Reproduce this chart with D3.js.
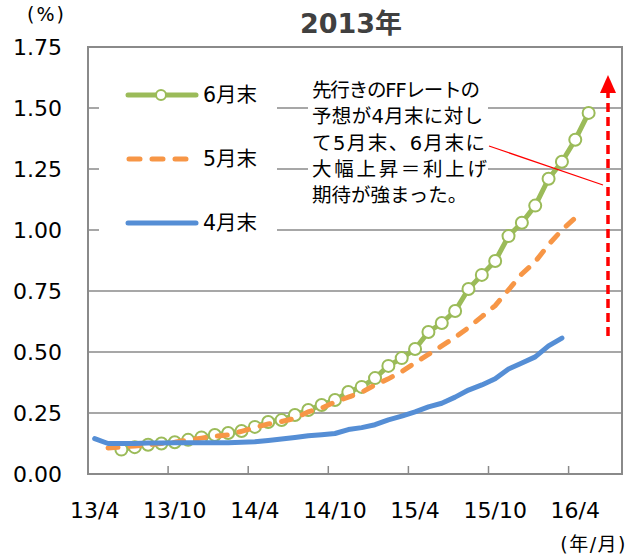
<!DOCTYPE html>
<html>
<head>
<meta charset="utf-8">
<script src="https://cdn.jsdelivr.net/npm/d3@7"></script>
<style>
  html, body { margin: 0; padding: 0; background: #fff; }
  svg { display: block; }
  text { font-family: "DejaVu Sans", "Noto Sans CJK JP", sans-serif; }
</style>
</head>
<body>
<svg id="chart" width="638" height="556"></svg>
<script>
// ---- data ----
const months = ["13/4","13/5","13/6","13/7","13/8","13/9","13/10","13/11","13/12","14/1","14/2","14/3",
  "14/4","14/5","14/6","14/7","14/8","14/9","14/10","14/11","14/12","15/1","15/2","15/3",
  "15/4","15/5","15/6","15/7","15/8","15/9","15/10","15/11","15/12","16/1","16/2","16/3",
  "16/4","16/5","16/6","16/7"];
const xTickLabels = ["13/4","13/10","14/4","14/10","15/4","15/10","16/4"];
const yTicks = [0, 0.25, 0.5, 0.75, 1.0, 1.25, 1.5, 1.75];

// 4月末 : 13/4 .. 16/3
const apr = [0.145,0.125,0.125,0.125,0.127,0.127,0.128,0.128,0.128,0.128,0.128,0.130,
  0.132,0.137,0.143,0.150,0.157,0.161,0.166,0.182,0.190,0.202,0.222,0.237,
  0.255,0.275,0.290,0.315,0.344,0.365,0.390,0.430,0.455,0.480,0.525,0.557];
// 5月末 : 13/5 .. 16/4
const may = [0.107,0.110,0.115,0.120,0.125,0.130,0.140,0.147,0.155,0.160,0.175,
  0.190,0.205,0.215,0.228,0.255,0.270,0.295,0.315,0.335,0.365,0.390,0.420,
  0.455,0.490,0.525,0.560,0.600,0.645,0.690,0.755,0.820,0.870,0.940,1.000,1.050];
// 6月末 : 13/6 .. 16/5
const jun = [0.100,0.110,0.120,0.125,0.130,0.140,0.150,0.160,0.168,0.176,
  0.193,0.213,0.221,0.242,0.262,0.283,0.303,0.336,0.357,0.393,0.443,0.475,
  0.512,0.582,0.619,0.668,0.758,0.816,0.873,0.975,1.030,1.100,1.210,1.280,1.370,1.480];

const seriesNames = ["6月末","5月末","4月末"];
const noteLines = ["先行きのFFレートの","予想が4月末に対し","て5月末、6月末に","大幅上昇＝利上げ","期待が強まった。"];

// ---- chart ----
const svg = d3.select("#chart");
const L = 88, R = 622, T = 47, B = 474;
const x = d3.scaleBand().domain(months).range([L, R]).padding(0);
const y = d3.scaleLinear().domain([0, 1.75]).range([B, T]);
const cx = m => x(m) + x.bandwidth() / 2;

const gridColor = "#8a8a8a";
// gridlines
svg.append("g").selectAll("line").data(yTicks.filter(d => d > 0 && d < 1.75)).join("line")
  .attr("x1", L).attr("x2", R).attr("y1", d => y(d)).attr("y2", d => y(d))
  .attr("stroke", gridColor).attr("stroke-width", 1.5);

// plot border
svg.append("rect").attr("x", L).attr("y", T).attr("width", R - L).attr("height", B - T)
  .attr("fill", "none").attr("stroke", gridColor).attr("stroke-width", 2);

// x tick marks (between categories, every 6)
const tickIdx = d3.range(6, months.length, 6);
svg.append("g").selectAll("line").data(tickIdx).join("line")
  .attr("x1", i => x(months[i])).attr("x2", i => x(months[i]))
  .attr("y1", B).attr("y2", B - 8)
  .attr("stroke", gridColor).attr("stroke-width", 1.5);

// y axis labels
const yAxis = d3.axisLeft(y).tickValues(yTicks).tickFormat(d3.format(".2f")).tickSize(0).tickPadding(26);
const gy = svg.append("g").attr("transform", `translate(${L},0)`).call(yAxis);
gy.select(".domain").remove();
gy.selectAll("text").attr("font-size", 22).attr("fill", "#000")
  .style("font-family", '"DejaVu Sans", sans-serif');

// x axis labels
const xAxis = d3.axisBottom(x).tickValues(xTickLabels).tickSize(0).tickPadding(28);
const gx = svg.append("g").attr("transform", `translate(0,${B})`).call(xAxis);
gx.select(".domain").remove();
gx.selectAll("text").attr("font-size", 22).attr("fill", "#000")
  .style("font-family", '"DejaVu Sans", sans-serif');

// lines
const line = d3.line().x(d => cx(d.m)).y(d => y(d.v));
const aprD = apr.map((v, i) => ({ m: months[i], v }));
const mayD = may.map((v, i) => ({ m: months[i + 1], v }));
const junD = jun.map((v, i) => ({ m: months[i + 2], v }));

const green = "#9BBB59", orange = "#F79646", blue = "#558ED5";

svg.append("path").datum(junD).attr("d", line).attr("fill", "none")
  .attr("stroke", green).attr("stroke-width", 5).attr("stroke-linejoin", "round");
svg.append("g").selectAll("circle").data(junD).join("circle")
  .attr("cx", d => cx(d.m)).attr("cy", d => y(d.v)).attr("r", 6)
  .attr("fill", "#fff").attr("stroke", green).attr("stroke-width", 2);

svg.append("path").datum(mayD).attr("d", line).attr("fill", "none")
  .attr("stroke", orange).attr("stroke-width", 5).attr("stroke-linecap", "round")
  .attr("stroke-dasharray", "10,12");

svg.append("path").datum(aprD).attr("d", line).attr("fill", "none")
  .attr("stroke", blue).attr("stroke-width", 5).attr("stroke-linejoin", "round").attr("stroke-linecap", "round");

// red arrow
const arrowX = 608;
svg.append("line").attr("x1", arrowX).attr("x2", arrowX).attr("y1", 336).attr("y2", 92)
  .attr("stroke", "#FF0000").attr("stroke-width", 3.5).attr("stroke-dasharray", "9,5");
svg.append("path").attr("d", `M${arrowX - 8},93 L${arrowX + 8},93 L${arrowX},75 Z`).attr("fill", "#FF0000");

// annotation pointer line
svg.append("line").attr("x1", 489).attr("y1", 146).attr("x2", 603).attr("y2", 185)
  .attr("stroke", "#FF0000").attr("stroke-width", 1.2);

// legend
svg.append("rect").attr("x", 99).attr("y", 65).attr("width", 178).attr("height", 177).attr("fill", "#fff");
const legY = [95, 159, 223];
const lg = svg.append("g");
lg.append("line").attr("x1", 128).attr("x2", 196).attr("y1", legY[0]).attr("y2", legY[0])
  .attr("stroke", green).attr("stroke-width", 5).attr("stroke-linecap", "round");
lg.append("circle").attr("cx", 161).attr("cy", legY[0]).attr("r", 5)
  .attr("fill", "#fff").attr("stroke", green).attr("stroke-width", 2);
lg.append("line").attr("x1", 129).attr("x2", 190).attr("y1", legY[1]).attr("y2", legY[1])
  .attr("stroke", orange).attr("stroke-width", 5).attr("stroke-linecap", "round").attr("stroke-dasharray", "11,12");
lg.append("line").attr("x1", 128).attr("x2", 196).attr("y1", legY[2]).attr("y2", legY[2])
  .attr("stroke", blue).attr("stroke-width", 5).attr("stroke-linecap", "round");
lg.selectAll("text").data(seriesNames).join("text")
  .attr("x", 203).attr("y", (d, i) => legY[i] + 7).attr("font-size", 20.5).attr("fill", "#000").text(d => d);

// annotation box + text
svg.append("rect").attr("x", 308).attr("y", 74).attr("width", 180).attr("height", 132).attr("fill", "#fff");
const noteW = [168, 171, 173, 175, null];
svg.append("g").selectAll("text").data(noteLines).join("text")
  .attr("x", 312).attr("y", (d, i) => 97 + i * 26.3)
  .attr("font-size", 19.5).attr("fill", "#000")
  .each(function (d, i) { if (noteW[i]) d3.select(this).attr("textLength", noteW[i]).attr("lengthAdjust", "spacing"); })
  .text(d => d);

// title
svg.append("text").attr("x", 351).attr("y", 33).attr("text-anchor", "middle")
  .attr("font-size", 27).attr("font-weight", "bold").attr("fill", "#404040").text("2013年");

// units
svg.append("text").attr("x", 27).attr("y", 21).attr("font-size", 19).attr("letter-spacing", 2).attr("fill", "#000").text("(%)");
svg.append("text").attr("x", 627).attr("y", 551).attr("text-anchor", "end")
  .attr("font-size", 19).attr("letter-spacing", 1.5).attr("fill", "#000").text("(年/月)");
</script>
</body>
</html>
